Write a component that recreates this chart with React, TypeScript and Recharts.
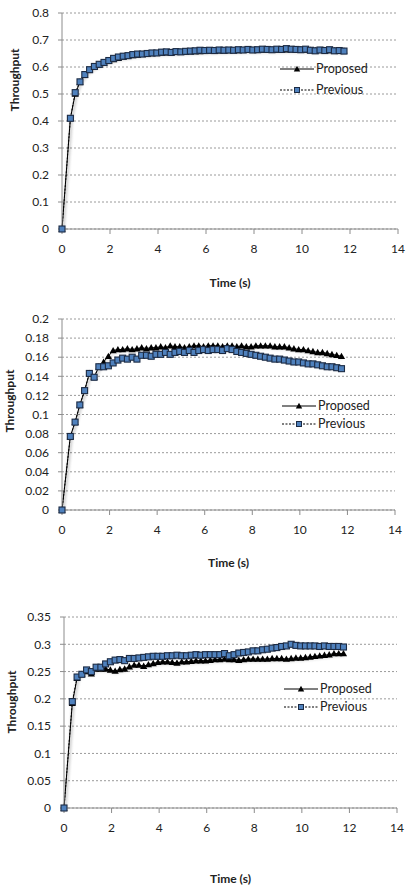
import {
  LineChart,
  Line,
  XAxis,
  YAxis,
  CartesianGrid,
  Legend,
  Label,
} from "recharts";

// sample times (s), shared by all three runs
const times = [
  0, 0.35, 0.55, 0.75, 0.95, 1.15, 1.35, 1.55, 1.75, 1.95,
  2.15, 2.35, 2.55, 2.75, 2.95, 3.15, 3.35, 3.55, 3.75, 3.95,
  4.15, 4.35, 4.55, 4.75, 4.95, 5.15, 5.35, 5.55, 5.75, 5.95,
  6.15, 6.35, 6.55, 6.75, 6.95, 7.15, 7.35, 7.55, 7.75, 7.95,
  8.15, 8.35, 8.55, 8.75, 8.95, 9.15, 9.35, 9.55, 9.75, 9.95,
  10.15, 10.35, 10.55, 10.75, 10.95, 11.15, 11.35, 11.55, 11.75,
];

const timeTicks = [0, 2, 4, 6, 8, 10, 12, 14];

// run 1
const proposed1 = [
  0, 0.41, 0.5, 0.545, 0.57, 0.588, 0.6, 0.608, 0.615, 0.622,
  0.628, 0.633, 0.637, 0.64, 0.643, 0.645, 0.647, 0.648, 0.65, 0.651,
  0.652, 0.653, 0.654, 0.655, 0.656, 0.656, 0.657, 0.658, 0.658, 0.659,
  0.659, 0.66, 0.66, 0.66, 0.661, 0.661, 0.661, 0.662, 0.662, 0.662,
  0.662, 0.663, 0.663, 0.663, 0.663, 0.664, 0.664, 0.664, 0.664, 0.664,
  0.663, 0.663, 0.662, 0.662, 0.662, 0.661, 0.661, 0.66, 0.66,
];
const previous1 = [
  0, 0.41, 0.505, 0.545, 0.572, 0.59, 0.602, 0.61, 0.617, 0.624,
  0.632, 0.637, 0.64, 0.642, 0.646, 0.648, 0.648, 0.65, 0.652, 0.652,
  0.655, 0.656, 0.654, 0.657, 0.656, 0.658, 0.659, 0.66, 0.662, 0.661,
  0.662, 0.661, 0.663, 0.662, 0.663, 0.662, 0.664, 0.663, 0.665, 0.663,
  0.664, 0.666, 0.665, 0.664, 0.666, 0.665, 0.668, 0.666, 0.665, 0.664,
  0.666, 0.662, 0.66, 0.663, 0.661, 0.664, 0.66, 0.661, 0.659,
];
const ticks1 = [0, 0.1, 0.2, 0.3, 0.4, 0.5, 0.6, 0.7, 0.8];

// run 2
const proposed2 = [
  0, 0.077, 0.092, 0.11, 0.125, 0.143, 0.139, 0.15, 0.155, 0.161,
  0.167, 0.168, 0.168, 0.169, 0.168, 0.169, 0.17, 0.169, 0.17, 0.17,
  0.171, 0.17, 0.172, 0.171, 0.171, 0.17, 0.171, 0.172, 0.172, 0.171,
  0.172, 0.172, 0.172, 0.171, 0.172, 0.172, 0.171, 0.172, 0.171, 0.171,
  0.172, 0.172, 0.172, 0.172, 0.171, 0.171, 0.171, 0.17, 0.169, 0.168,
  0.168, 0.167, 0.166, 0.165, 0.165, 0.164, 0.163, 0.162, 0.161,
];
const previous2 = [
  0, 0.077, 0.092, 0.11, 0.125, 0.143, 0.139, 0.15, 0.15, 0.151,
  0.154, 0.157, 0.159, 0.158, 0.16, 0.158, 0.162, 0.162, 0.161, 0.163,
  0.163, 0.165, 0.163, 0.165, 0.166, 0.165, 0.167, 0.165, 0.167, 0.168,
  0.167, 0.168, 0.168, 0.167, 0.169, 0.168, 0.166, 0.165, 0.164, 0.163,
  0.162, 0.161, 0.16, 0.159, 0.158, 0.158, 0.157, 0.156, 0.155, 0.155,
  0.154, 0.153, 0.153, 0.152, 0.151, 0.15, 0.15, 0.149, 0.148,
];
const ticks2 = [0, 0.02, 0.04, 0.06, 0.08, 0.1, 0.12, 0.14, 0.16, 0.18, 0.2];

// run 3
const proposed3 = [
  0, 0.192, 0.238, 0.245, 0.25, 0.246, 0.255, 0.255, 0.255, 0.253,
  0.251, 0.254, 0.255, 0.259, 0.262, 0.262, 0.26, 0.263, 0.265, 0.267,
  0.268, 0.268, 0.267, 0.266, 0.268, 0.268, 0.269, 0.27, 0.27, 0.27,
  0.271, 0.272, 0.272, 0.273, 0.272, 0.272, 0.271, 0.272, 0.273, 0.273,
  0.273, 0.273, 0.273, 0.274, 0.274, 0.274, 0.273, 0.274, 0.275, 0.275,
  0.276, 0.277, 0.278, 0.279, 0.28, 0.281, 0.283, 0.283, 0.283,
];
const previous3 = [
  0, 0.195, 0.24, 0.245, 0.253, 0.25, 0.258, 0.258, 0.264, 0.268,
  0.271, 0.272, 0.27, 0.274, 0.274, 0.275, 0.276, 0.277, 0.278, 0.278,
  0.278, 0.279, 0.279, 0.28, 0.279, 0.279, 0.28, 0.281, 0.28, 0.281,
  0.281, 0.281, 0.281, 0.283, 0.279, 0.281, 0.284, 0.285, 0.286, 0.288,
  0.288, 0.29, 0.291, 0.293, 0.294, 0.296, 0.297, 0.3, 0.298, 0.297,
  0.297, 0.297, 0.297, 0.296, 0.297, 0.296, 0.296, 0.296, 0.295,
];
const ticks3 = [0, 0.05, 0.1, 0.15, 0.2, 0.25, 0.3, 0.35];

const FONT = "Lato, 'Open Sans', sans-serif";
const AXIS = "#8c8c8c";
const BLUE = "#4f81bd";
const NAVY = "#1c2b44";

const TriangleDot = (props: any) => {
  const { cx, cy, index } = props;
  if (cx == null || cy == null) return null;
  return (
    <path
      key={`tri-${index}`}
      d={`M${cx},${cy - 3.6}L${cx + 3.6},${cy + 2.8}L${cx - 3.6},${cy + 2.8}Z`}
      fill="#000"
    />
  );
};

const SquareDot = (props: any) => {
  const { cx, cy, index } = props;
  if (cx == null || cy == null) return null;
  return (
    <rect
      key={`sq-${index}`}
      x={cx - 3}
      y={cy - 3}
      width={6}
      height={6}
      fill={BLUE}
      stroke={NAVY}
      strokeWidth={1.1}
    />
  );
};

const LegendBox = ({ gap }: { gap: number }) => (
  <div style={{ fontFamily: FONT, fontSize: 12.5, color: "#222", lineHeight: "14px" }}>
    <div style={{ display: "flex", alignItems: "center" }}>
      <svg width={34} height={10}>
        <line x1={0} y1={5} x2={34} y2={5} stroke="#000" strokeWidth={1} />
        <path d="M17,1.8L20.2,7.6L13.8,7.6Z" fill="#000" />
      </svg>
      <span style={{ marginLeft: 2 }}>Proposed</span>
    </div>
    <div style={{ display: "flex", alignItems: "center", marginTop: gap }}>
      <svg width={34} height={10}>
        <line x1={0} y1={5} x2={34} y2={5} stroke="#000" strokeWidth={1} strokeDasharray="2 1.5" />
        <rect x={14.5} y={2.5} width={5} height={5} fill={BLUE} stroke={NAVY} strokeWidth={1} />
      </svg>
      <span style={{ marginLeft: 2 }}>Previous</span>
    </div>
  </div>
);

const fmt = (v: number) => String(+v.toFixed(2));

type Props = {
  top: number;
  height: number;
  plotTop: number;
  plotLeft: number;
  plotRight: number;
  axisHeight: number;
  proposed: number[];
  previous: number[];
  ticks: number[];
  titleX: number;
  titleFrac: number;
  legendLeft: number;
  legendTop: number;
  legendGap: number;
};

function ThroughputChart(p: Props) {
  const data = times.map((t, i) => ({
    t,
    proposed: p.proposed[i],
    previous: p.previous[i],
  }));
  const max = p.ticks[p.ticks.length - 1];
  return (
    <div style={{ position: "absolute", left: 0, top: p.top }}>
      <LineChart
        width={410}
        height={p.height}
        data={data}
        margin={{ top: p.plotTop, right: 410 - p.plotRight, left: 0, bottom: 0 }}
      >
        <CartesianGrid vertical={false} stroke="#9a9a9a" strokeDasharray="2 2" />
        <XAxis
          dataKey="t"
          type="number"
          domain={[0, 14]}
          ticks={timeTicks}
          interval={0}
          height={p.axisHeight}
          axisLine={{ stroke: AXIS }}
          tickLine={{ stroke: AXIS }}
          tickSize={5}
          tickMargin={10}
          tick={{ fill: "#222", fontSize: 12 }}
        >
          <Label
            value="Time (s)"
            position="insideBottom"
            offset={3}
            style={{ fontWeight: 700, fontSize: 12, fill: "#222" }}
          />
        </XAxis>
        <YAxis
          type="number"
          domain={[0, max]}
          ticks={p.ticks}
          interval={0}
          width={p.plotLeft}
          tickFormatter={fmt}
          axisLine={{ stroke: AXIS }}
          tickLine={{ stroke: AXIS }}
          tickSize={4}
          tickMargin={9}
          tick={{ fill: "#222", fontSize: 12 }}
        >
          <Label
            content={({ viewBox }: any) => {
              const x = p.titleX;
              const y = viewBox.y + viewBox.height * p.titleFrac;
              return (
                <text
                  x={x}
                  y={y}
                  transform={`rotate(-90, ${x}, ${y})`}
                  textAnchor="middle"
                  dominantBaseline="central"
                  style={{ fontWeight: 700, fontSize: 12, fill: "#222" }}
                >
                  Throughput
                </text>
              );
            }}
          />
        </YAxis>
        <Legend
          layout="vertical"
          align="center"
          verticalAlign="middle"
          wrapperStyle={{ left: p.legendLeft, top: p.legendTop, width: "auto" }}
          content={() => <LegendBox gap={p.legendGap} />}
        />
        <Line
          className="series"
          type="linear"
          dataKey="proposed"
          name="Proposed"
          stroke="#000"
          strokeWidth={1}
          dot={TriangleDot}
          activeDot={false}
          isAnimationActive={false}
        />
        <Line
          className="series"
          type="linear"
          dataKey="previous"
          name="Previous"
          stroke="#000"
          strokeWidth={1}
          strokeDasharray="2 1.5"
          dot={SquareDot}
          activeDot={false}
          isAnimationActive={false}
        />
      </LineChart>
    </div>
  );
}

export default function App() {
  return (
    <div
      style={{
        position: "absolute",
        left: 0,
        top: 0,
        width: 410,
        height: 886,
        background: "#fff",
        fontFamily: FONT,
        overflow: "hidden",
      }}
    >
      <style>{`.series { filter: drop-shadow(1px 2px 1.5px rgba(0,0,0,0.35)); }`}</style>
      <ThroughputChart
        top={0}
        height={290}
        plotTop={13}
        plotLeft={62}
        plotRight={398}
        axisHeight={61}
        proposed={proposed1}
        previous={previous1}
        ticks={ticks1}
        titleX={15}
        titleFrac={0.31}
        legendLeft={280}
        legendTop={62}
        legendGap={7}
      />
      <ThroughputChart
        top={290}
        height={280}
        plotTop={29}
        plotLeft={62}
        plotRight={395}
        axisHeight={60}
        proposed={proposed2}
        previous={previous2}
        ticks={ticks2}
        titleX={10}
        titleFrac={0.43}
        legendLeft={282}
        legendTop={109}
        legendGap={4}
      />
      <ThroughputChart
        top={590}
        height={296}
        plotTop={27}
        plotLeft={64}
        plotRight={397}
        axisHeight={78}
        proposed={proposed3}
        previous={previous3}
        ticks={ticks3}
        titleX={12}
        titleFrac={0.445}
        legendLeft={284}
        legendTop={92}
        legendGap={4}
      />
    </div>
  );
}
